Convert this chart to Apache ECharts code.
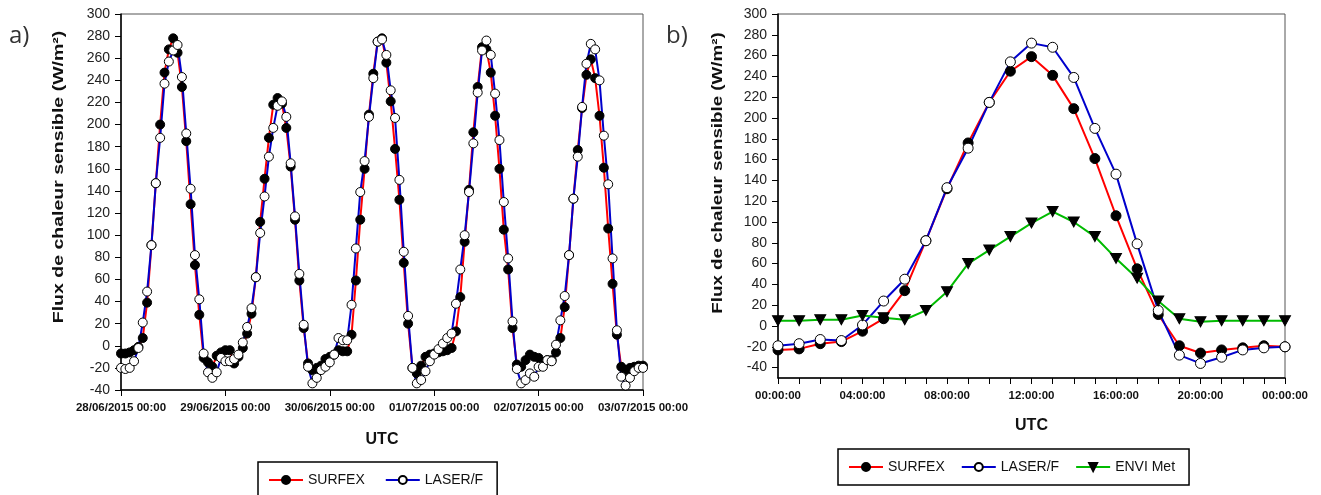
<!DOCTYPE html>
<html>
<head>
<meta charset="utf-8">
<script src="https://cdn.jsdelivr.net/npm/echarts@6/dist/echarts.min.js"></script>
<style>
  html, body { margin: 0; padding: 0; background: #fff; }
  #chart { width: 1321px; height: 495px; }
</style>
</head>
<body>
<div id="chart"></div>
<script>
// panel a: hourly values, 28/06/2015 00:00 -> 03/07/2015 00:00 (121 points)
const dayLabels = ['28/06/2015 00:00', '29/06/2015 00:00', '30/06/2015 00:00',
  '01/07/2015 00:00', '02/07/2015 00:00', '03/07/2015 00:00'];

const surfexA = [
  -7, -7, -6, -4, -1, 7, 39, 91, 147, 200, 247, 268, 278, 265, 234, 185, 128, 73, 28, -11, -15, -19, -9, -6,
  -4, -4, -16, -10, -2, 11, 29, 62, 112, 151, 188, 218, 224, 219, 197, 162, 114, 59, 16, -16, -22, -20, -18, -12,
  -10, -8, -4, -5, -5, 10, 59, 114, 160, 209, 246, 275, 278, 256, 221, 178, 132, 75, 20, -20, -25, -18, -10, -8,
  -7, -6, -5, -4, -2, 13, 44, 94, 141, 193, 234, 270, 268, 247, 208, 160, 105, 69, 16, -17, -19, -13, -8, -10,
  -11, -16, -13, -13, -6, 7, 35, 82, 133, 177, 215, 245, 259, 242, 208, 161, 106, 56, 10, -19, -22, -20, -19, -18, -18
];
const laserA = [
  -20, -21, -20, -14, -2, 21, 49, 91, 147, 188, 237, 257, 267, 272, 243, 192, 142, 82, 42, -7, -24, -29, -24, -11,
  -14, -14, -12, -8, 3, 17, 34, 62, 102, 135, 171, 197, 217, 221, 207, 165, 117, 65, 19, -19, -34, -29, -22, -19,
  -15, -8, 7, 5, 5, 37, 88, 139, 167, 207, 242, 275, 277, 263, 231, 206, 150, 85, 27, -20, -34, -31, -23, -14,
  -8, -3, 2, 7, 11, 38, 69, 100, 139, 183, 229, 267, 276, 263, 228, 186, 130, 79, 22, -21, -34, -31, -25, -28,
  -19, -19, -13, -14, 1, 23, 45, 82, 133, 171, 216, 255, 273, 268, 240, 190, 146, 79, 14, -28, -36, -29, -23, -20, -20
];

// panel b: mean diurnal cycle, 00:00 -> 24:00
const surfexB = [-23, -22, -17, -15, -5, 7, 34, 82, 132, 176, 215, 245, 259, 241, 209, 161, 106, 55, 11, -19, -26, -23, -21, -19, -20];
const laserB = [-19, -17, -13, -14, 1, 24, 45, 82, 133, 171, 215, 254, 272, 268, 239, 190, 146, 79, 15, -28, -36, -30, -23, -21, -20];
const enviB = [5, 5, 6, 6, 10, 8, 6, 15, 33, 60, 73, 86, 99, 110, 100, 86, 65, 46, 24, 7, 4, 5, 5, 5, 5];

const yTicksB = [-40, -20, 0, 20, 40, 60, 80, 100, 120, 140, 160, 180, 200, 220, 240, 260, 280, 300];

const FONT = '"Liberation Sans", Arial, sans-serif';
const yTitle = 'Flux de chaleur sensible (W/m²)';

const pad2 = (n) => String(n % 24).padStart(2, '0');

const axisLine = { show: true, onZero: false, lineStyle: { color: '#000', width: 1.5 } };
const axisTick = { show: true, inside: false, length: 6, lineStyle: { color: '#000', width: 1 } };
const yLabel = { color: '#222', fontSize: 14, fontFamily: FONT, margin: 11 };
const xLabel = { color: '#111', fontSize: 11.5, fontWeight: 'bold', fontFamily: FONT, margin: 12 };
const nameStyle = { color: '#111', fontWeight: 'bold', fontFamily: FONT };

// the y titles are stretched along their length in the original figure
const yTitleText = (x, y, stretch) => ({
  type: 'text', x, y, rotation: Math.PI / 2, scaleX: stretch,
  style: { text: yTitle, fontSize: 15, fontWeight: 'bold', fontFamily: FONT, fill: '#111',
    align: 'center', verticalAlign: 'middle' }
});

const chart = echarts.init(document.getElementById('chart'));

const filled = { color: '#000', borderColor: '#000', borderWidth: 1 };
const open = { color: '#fff', borderColor: '#000', borderWidth: 1 };

chart.setOption({
  animation: false,
  backgroundColor: '#fff',
  textStyle: { fontFamily: FONT },
  grid: [
    { left: 121, top: 14, width: 522, height: 376, show: true, borderColor: '#555', borderWidth: 1 },
    { left: 778, top: 14, width: 507, height: 364, show: true, borderColor: '#555', borderWidth: 1 }
  ],
  xAxis: [
    {
      gridIndex: 0, type: 'value', min: 0, max: 120, interval: 24,
      axisLine, axisTick, splitLine: { show: false },
      axisLabel: { ...xLabel, showMinLabel: true, showMaxLabel: true, formatter: (v) => dayLabels[v / 24] },
      name: 'UTC', nameLocation: 'middle', nameGap: 42,
      nameTextStyle: { ...nameStyle, fontSize: 16 }
    },
    {
      gridIndex: 1, type: 'value', min: 0, max: 24, interval: 1,
      axisLine, axisTick, splitLine: { show: false },
      axisLabel: { ...xLabel, showMinLabel: true, showMaxLabel: true,
        formatter: (v) => (v % 4 === 0 ? pad2(v) + ':00:00' : '') },
      name: 'UTC', nameLocation: 'middle', nameGap: 40,
      nameTextStyle: { ...nameStyle, fontSize: 16 }
    }
  ],
  yAxis: [
    {
      gridIndex: 0, type: 'value', min: -40, max: 300, interval: 20,
      axisLine, axisTick, splitLine: { show: false },
      axisLabel: yLabel
    },
    {
      gridIndex: 1, type: 'value', min: -50, max: 300,
      axisLine, splitLine: { show: false },
      axisTick: { ...axisTick, customValues: yTicksB },
      axisLabel: { ...yLabel, customValues: yTicksB }
    }
  ],
  legend: [
    {
      data: ['SURFEX', 'LASER/F'], left: 258, top: 462,
      itemWidth: 34, itemHeight: 10, itemGap: 20, padding: [11, 14, 11, 10],
      borderColor: '#000', borderWidth: 1.5, selectedMode: false,
      textStyle: { fontSize: 14, color: '#111', fontFamily: FONT }
    },
    {
      data: ['SURFEX', 'LASER/F', 'ENVI Met'], left: 838, top: 449,
      itemWidth: 34, itemHeight: 10, itemGap: 16, padding: [11, 14, 11, 10],
      borderColor: '#000', borderWidth: 1.5, selectedMode: false,
      textStyle: { fontSize: 14, color: '#111', fontFamily: FONT }
    }
  ],
  graphic: [
    { type: 'text', left: 9, top: 24, style: { text: 'a)', fontSize: 24, fill: '#333', fontFamily: '"Open Sans", sans-serif' } },
    { type: 'text', left: 666, top: 24, style: { text: 'b)', fontSize: 24, fill: '#333', fontFamily: '"Open Sans", sans-serif' } },
    yTitleText(59, 177, 1.3),
    yTitleText(718, 173, 1.25)
  ],
  series: [
    {
      name: 'SURFEX', type: 'line', xAxisIndex: 0, yAxisIndex: 0, clip: false,
      data: surfexA.map((v, i) => [i, v]),
      symbol: 'circle', symbolSize: 9, itemStyle: filled,
      lineStyle: { color: '#ff0000', width: 2 }, emphasis: { disabled: true }
    },
    {
      name: 'LASER/F', type: 'line', xAxisIndex: 0, yAxisIndex: 0, clip: false,
      data: laserA.map((v, i) => [i, v]),
      symbol: 'circle', symbolSize: 9, itemStyle: open,
      lineStyle: { color: '#0000cc', width: 2 }, emphasis: { disabled: true }
    },
    {
      name: 'SURFEX', type: 'line', xAxisIndex: 1, yAxisIndex: 1, clip: false,
      data: surfexB.map((v, i) => [i, v]),
      symbol: 'circle', symbolSize: 10, itemStyle: filled,
      lineStyle: { color: '#ff0000', width: 2 }, emphasis: { disabled: true }
    },
    {
      name: 'LASER/F', type: 'line', xAxisIndex: 1, yAxisIndex: 1, clip: false,
      data: laserB.map((v, i) => [i, v]),
      symbol: 'circle', symbolSize: 10, itemStyle: open,
      lineStyle: { color: '#0000cc', width: 2 }, emphasis: { disabled: true }
    },
    {
      name: 'ENVI Met', type: 'line', xAxisIndex: 1, yAxisIndex: 1, clip: false,
      data: enviB.map((v, i) => [i, v]),
      symbol: 'triangle', symbolRotate: 180, symbolSize: [11, 10], itemStyle: filled,
      lineStyle: { color: '#00bb00', width: 2 }, emphasis: { disabled: true }
    }
  ]
});
</script>
</body>
</html>
